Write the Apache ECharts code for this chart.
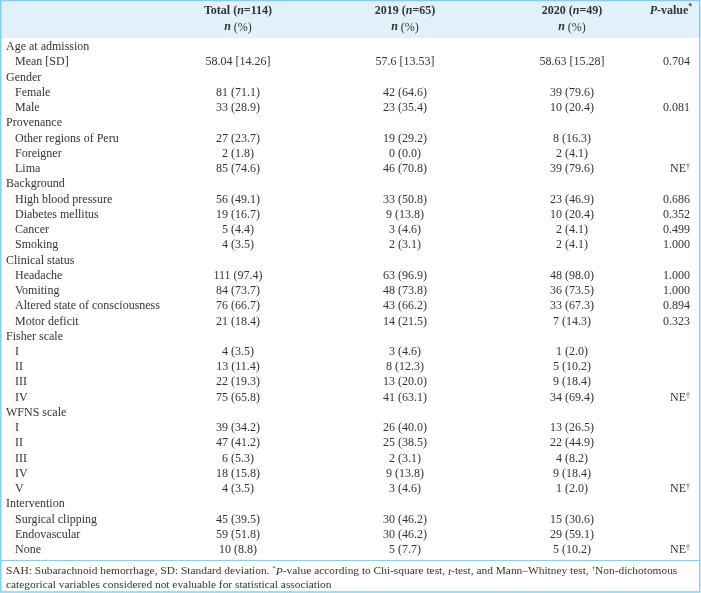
<!DOCTYPE html>
<html>
<head>
<meta charset="utf-8">
<script src="https://cdn.jsdelivr.net/npm/echarts@6/dist/echarts.min.js"></script>
<style>html,body{margin:0;padding:0;background:#fff;}#c{width:701px;height:593px;}</style>
</head>
<body>
<div id="c"></div>
<script>
// ---- data ----
const columns = ['Total', '2019', '2020', 'P-value'];
const rowLabels = ['Age at admission','Mean [SD]','Gender','Female','Male','Provenance','Other regions of Peru','Foreigner','Lima','Background','High blood pressure','Diabetes mellitus','Cancer','Smoking','Clinical status','Headache','Vomiting','Altered state of consciousness','Motor deficit','Fisher scale','I','II','III','IV','WFNS scale','I','II','III','IV','V','Intervention','Surgical clipping','Endovascular','None'];
const totalCol = [null,'58.04 [14.26]',null,'81 (71.1)','33 (28.9)',null,'27 (23.7)','2 (1.8)','85 (74.6)',null,'56 (49.1)','19 (16.7)','5 (4.4)','4 (3.5)',null,'111 (97.4)','84 (73.7)','76 (66.7)','21 (18.4)',null,'4 (3.5)','13 (11.4)','22 (19.3)','75 (65.8)',null,'39 (34.2)','47 (41.2)','6 (5.3)','18 (15.8)','4 (3.5)',null,'45 (39.5)','59 (51.8)','10 (8.8)'];
const y2019Col = [null,'57.6 [13.53]',null,'42 (64.6)','23 (35.4)',null,'19 (29.2)','0 (0.0)','46 (70.8)',null,'33 (50.8)','9 (13.8)','3 (4.6)','2 (3.1)',null,'63 (96.9)','48 (73.8)','43 (66.2)','14 (21.5)',null,'3 (4.6)','8 (12.3)','13 (20.0)','41 (63.1)',null,'26 (40.0)','25 (38.5)','2 (3.1)','9 (13.8)','3 (4.6)',null,'30 (46.2)','30 (46.2)','5 (7.7)'];
const y2020Col = [null,'58.63 [15.28]',null,'39 (79.6)','10 (20.4)',null,'8 (16.3)','2 (4.1)','39 (79.6)',null,'23 (46.9)','10 (20.4)','2 (4.1)','2 (4.1)',null,'48 (98.0)','36 (73.5)','33 (67.3)','7 (14.3)',null,'1 (2.0)','5 (10.2)','9 (18.4)','34 (69.4)',null,'13 (26.5)','22 (44.9)','4 (8.2)','9 (18.4)','1 (2.0)',null,'15 (30.6)','29 (59.1)','5 (10.2)'];
const pCol = [null,'0.704',null,null,'0.081',null,null,null,'NE†',null,'0.686','0.352','0.499','1.000',null,'1.000','1.000','0.894','0.323',null,null,null,null,'NE†',null,null,null,null,null,'NE†',null,null,null,'NE†'];
const headerTop = ['Total (n=114)', '2019 (n=65)', '2020 (n=49)', 'P-value*'];
const footnote1 = 'SAH: Subarachnoid hemorrhage, SD: Standard deviation. *P-value according to Chi-square test, t-test, and Mann–Whitney test, †Non-dichotomous';
const footnote2 = 'categorical variables considered not evaluable for statistical association';

// ---- build ----
const FONT = '"Liberation Serif", "Times New Roman", serif';
const TXT = '#333333';
const BORDER = '#84d0f0';
const HEAD_BG = '#e1f1fa';
const P_IDX = 3;
const FOOT_SIZE = 11.4;
const isGroup = rowLabels.map((_, i) => totalCol[i] === null);
const colArrays = [totalCol, y2019Col, y2020Col, pCol];
const cells = [];
colArrays.forEach((arr, c) => {
  arr.forEach((v, r) => { if (v !== null) cells.push({ col: c, row: r, text: v }); });
});
function richify(s) {
  return s.replace(/†/g, '{sup|†}');
}
function headerFmt(v, i) {
  if (i === P_IDX) return '{bi|P}{b|-value}{sup|*}{pad| }\n{r| }';
  const t = headerTop[i].replace('(n=', '(').split('(');
  return '{b|' + t[0] + '(}{bi|n}{b|=' + t[1] + '}\n{bi|n}{r| (%)}';
}

const chart = echarts.init(document.getElementById('c'), null, { renderer: 'canvas' });
const option = {
  animation: false,
  backgroundColor: '#ffffff',
  textStyle: { fontFamily: FONT, color: TXT },
  grid: { left: 154.5, right: -121.5, top: 39.4, height: 518.2, containLabel: false, outerBoundsMode: 'none' },
  xAxis: {
    type: 'category', data: columns, position: 'top',
    axisLine: { show: false }, axisTick: { show: false }, splitLine: { show: false },
    axisLabel: {
      interval: 0, margin: 4, formatter: headerFmt, color: TXT, fontFamily: FONT,
      rich: {
        b: { fontWeight: 'bold', fontSize: 12, fontFamily: FONT, color: TXT, lineHeight: 16 },
        bi: { fontWeight: 'bold', fontStyle: 'italic', fontSize: 12, fontFamily: FONT, color: TXT, lineHeight: 16 },
        r: { fontSize: 12, fontFamily: FONT, color: TXT, lineHeight: 16 },
        sup: { fontWeight: 'bold', fontSize: 8, fontFamily: FONT, color: TXT, verticalAlign: 'top', lineHeight: 16 },
        pad: { width: 136, fontSize: 12, lineHeight: 16 }
      }
    }
  },
  yAxis: {
    type: 'category', data: rowLabels, inverse: true,
    axisLine: { show: false }, axisTick: { show: false }, splitLine: { show: false },
    axisLabel: {
      interval: 0, align: 'left', margin: 148.5, color: TXT, fontFamily: FONT, fontSize: 12,
      formatter: (v, i) => isGroup[i] ? '{g|' + v + '}' : '{s|' + v + '}',
      rich: {
        g: { fontSize: 12, fontFamily: FONT, color: TXT },
        s: { fontSize: 12, fontFamily: FONT, color: TXT, padding: [0, 0, 0, 9] }
      }
    }
  },
  graphic: [
    { type: 'rect', z: -10, shape: { x: 0, y: 0, width: 701, height: 38 }, style: { fill: HEAD_BG } },
    { type: 'line', z: 10, shape: { x1: 0, y1: 560.5, x2: 701, y2: 560.5 }, style: { stroke: BORDER, lineWidth: 1.2 } },
    { type: 'rect', z: 10, shape: { x: 0.75, y: 0.5, width: 699, height: 591.5 }, style: { fill: 'none', stroke: BORDER, lineWidth: 1.5 } },
    { type: 'text', z: 10, left: 6, top: 564.5, style: {
        text: footnote1.replace('*P', '{sup|*}{i|P}').replace('t-test', '{i|t}-test').replace('†', '{sup|†}') + '\n' + footnote2,
        font: FOOT_SIZE + 'px ' + FONT, fill: TXT, lineHeight: 14,
        rich: {
          i: { fontStyle: 'italic', fontSize: FOOT_SIZE, fontFamily: FONT, fill: TXT, lineHeight: 14 },
          sup: { fontSize: 7, fontFamily: FONT, fill: TXT, verticalAlign: 'top', lineHeight: 14 }
        }
      } }
  ],
  series: [{
    type: 'custom', coordinateSystem: 'cartesian2d', clip: false,
    data: cells.map(c => [c.col, c.row]),
    encode: { x: 0, y: 1 },
    renderItem: function (params, api) {
      const cell = cells[params.dataIndex];
      const p = api.coord([api.value(0), api.value(1)]);
      const isP = cell.col === P_IDX;
      return {
        type: 'text',
        x: isP ? p[0] - 49 : p[0], y: p[1],
        style: {
          text: richify(cell.text),
          fontFamily: FONT, fontSize: 12, fill: TXT,
          align: isP ? 'right' : 'center', verticalAlign: 'middle',
          rich: { sup: { fontSize: 8, fontFamily: FONT, fill: TXT, verticalAlign: 'top' } }
        }
      };
    }
  }]
};
chart.setOption(option);
</script>
</body>
</html>
